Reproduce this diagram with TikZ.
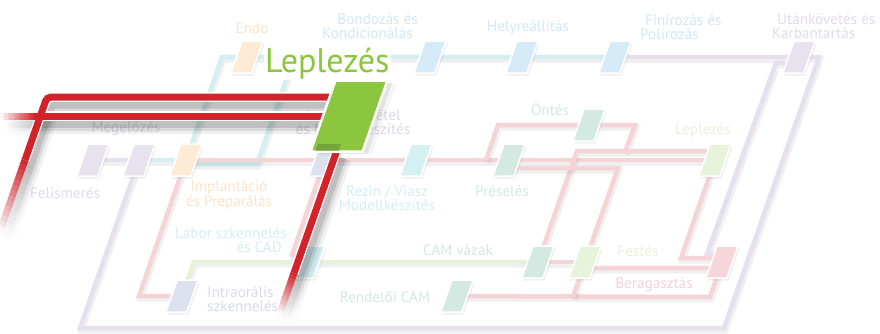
\documentclass[tikz,border=0pt]{standalone}
\usepackage{fontspec}
\setmainfont{PT Sans}
\usetikzlibrary{calc,shadows}
\definecolor{purL}{HTML}{E7DFEE}
\definecolor{cyaL}{HTML}{D3EFF2}
\definecolor{pnkL}{HTML}{F5D4D7}
\definecolor{grnL}{HTML}{E5F2D7}
\definecolor{sPur}{HTML}{E8E2EE}
\definecolor{sOra}{HTML}{FDEBD6}
\definecolor{sBlu}{HTML}{D6EBF8}
\definecolor{sCya}{HTML}{D5F0F3}
\definecolor{sGry}{HTML}{D4E9E1}
\definecolor{sLgr}{HTML}{E8F3DC}
\definecolor{sLav}{HTML}{DDE1EE}
\definecolor{sPnk}{HTML}{F6D6DA}
\definecolor{tPur}{HTML}{E2DCEA}
\definecolor{tOra}{HTML}{FDE3C8}
\definecolor{tBlu}{HTML}{D2E8F6}
\definecolor{tCya}{HTML}{D3EFF3}
\definecolor{tLav}{HTML}{DADAEA}
\definecolor{tGry}{HTML}{D3EAE1}
\definecolor{tLgr}{HTML}{E8F3DC}
\definecolor{tPnk}{HTML}{F6D3D7}
\definecolor{redR}{HTML}{D2232A}
\definecolor{grnB}{HTML}{8CC63F}
\definecolor{grnD}{HTML}{74A53A}
\newcommand\fadeseg[4]{%
  \foreach \k in {1,...,14}{%
    \pgfmathsetmacro\rfa{(\k-1)/14}%
    \pgfmathsetmacro\rfb{\k/14}%
    \pgfmathsetmacro\rfo{#4*(1-(\k-0.5)/14)}%
    \draw[#3, draw opacity=\rfo] ($(#1)!\rfa!(#2)$) -- ($(#1)!\rfb!(#2)$);
  }}
\begin{document}
\begin{tikzpicture}[x=1pt,y=-1pt,
  ln/.style={line width=4.5pt, line join=miter,
    preaction={draw=black, draw opacity=0.06, line width=6pt, transform canvas={shift={(1.5,2.5)}}}},
  stn/.style={draw=white, line width=1.5pt, minimum width=21pt, minimum height=32pt,
    inner sep=0pt, xslant=0.35, drop shadow={shadow xshift=1.5pt, shadow yshift=-2.5pt, opacity=0.12}},
  lbl/.style={font=\fontsize{15.2}{14.5}\selectfont, inner sep=0pt},
  redln/.style={draw=redR, line width=7pt},
  shd/.style={draw=black, line width=#1},
]
\useasboundingbox (0,0) rectangle (880,333);
\fill[white] (0,0) rectangle (880,333);
% station positions
\coordinate (felis) at (93,160);
\coordinate (megel) at (139,160);
\coordinate (impl) at (186,160);
\coordinate (endo) at (247,57);
\coordinate (bond) at (430,57);
\coordinate (helyr) at (522,57);
\coordinate (finir) at (615,57);
\coordinate (utank) at (799,57);
\coordinate (lenyo) at (325,160);
\coordinate (rezin) at (416,160);
\coordinate (presel) at (509,160);
\coordinate (ontes) at (589,125);
\coordinate (leplS) at (715,160);
\coordinate (camv) at (538,262);
\coordinate (festes) at (585,262);
\coordinate (berag) at (722,262);
\coordinate (rendel) at (457,296);
\coordinate (intra) at (182,296);
\coordinate (labor) at (309,262);
\coordinate (leplB) at (349,116);
% purple lines
\draw[ln, purL] (felis) -- (megel);
\draw[ln, purL] (megel) -- (80,328) -- (724,328) -- (819,57) -- (utank);
\draw[ln, purL] (finir) -- (utank);
\draw[ln, purL] (utank) -- (797,63) -- (776,63) -- (707,254) -- (720,254);
% cyan lines
\draw[ln, cyaL] (megel) -- (impl);
\draw[ln, cyaL] (impl) -- (222,57) -- (finir);
\draw[ln, cyaL] (impl) -- (190,164) -- (257,164) -- (294,57);
% green line
\draw[ln, grnL] (intra) -- (194,262) -- (camv);
% pink lines
\draw[ln, pnkL] (impl) -- (leplS);
\draw[ln, pnkL] (impl) -- (139,296) -- (intra);
\draw[ln, pnkL] (486,160) -- (498,125) -- (ontes) -- (635,125) -- (625,152);
\draw[ln, pnkL] (camv) -- (577,151) -- (712,151);
\draw[ln, pnkL] (presel) -- (512,168) -- (618,168) -- (festes);
\draw[ln, pnkL] (camv) -- (festes);
\draw[ln, pnkL] (festes) -- (592,268) -- (716,268);
\draw[ln, pnkL] (rendel) -- (710,297) -- (berag);
\draw[ln, pnkL] (festes) -- (573,297);
\draw[ln, pnkL] (leplS) -- (681,258) -- (716,258);
\draw[ln, pnkL] (lenyo) -- (292,255) -- (labor);
% stations
\node[stn, fill=sPur] (s-felis) at (felis) {};
\node[stn, fill=sPur] (s-megel) at (megel) {};
\node[stn, fill=sOra] (s-impl) at (impl) {};
\node[stn, fill=sOra] (s-endo) at (endo) {};
\node[stn, fill=sBlu] (s-bond) at (bond) {};
\node[stn, fill=sBlu] (s-helyr) at (helyr) {};
\node[stn, fill=sBlu] (s-finir) at (finir) {};
\node[stn, fill=sPur] (s-utank) at (utank) {};
\node[stn, fill=sLav] (s-lenyo) at (lenyo) {};
\node[stn, fill=sCya] (s-rezin) at (rezin) {};
\node[stn, fill=sGry] (s-presel) at (presel) {};
\node[stn, fill=sGry] (s-ontes) at (ontes) {};
\node[stn, fill=sLgr] (s-leplS) at (leplS) {};
\node[stn, fill=sGry] (s-camv) at (camv) {};
\node[stn, fill=sLgr] (s-festes) at (festes) {};
\node[stn, fill=sPnk] (s-berag) at (berag) {};
\node[stn, fill=sGry] (s-rendel) at (rendel) {};
\node[stn, fill=sLav] (s-intra) at (intra) {};
\node[stn, fill=sCya] (s-labor) at (labor) {};
% labels
\node[lbl, text=tOra] (t-endo) at (252,28) {Endo};
\node[lbl, text=tBlu, align=right, anchor=east] (t-bond) at (418,26) {Bondozás és\\Kondicionálás\hspace*{5pt}};
\node[lbl, text=tBlu] (t-helyr) at (528,28) {Helyreállítás};
\node[lbl, text=tBlu, align=left, anchor=west] (t-finir) at (640,27) {\hspace*{5pt}Finírozás és\\Polírozás};
\node[lbl, text=tPur, align=left, anchor=west] (t-utank) at (772,26) {\hspace*{5pt}Utánkövetés és\\Karbantartás};
\node[lbl, text=tPur] (t-megel) at (126,129) {Megelőzés};
\node[lbl, text=tPur] (t-felis) at (65,193) {Felismerés};
\node[lbl, text=tLav, align=center] (t-lenyo) at (353,122) {Lenyomatvétel\\és Modellkészítés};
\node[lbl, text=tOra, align=center] (t-impl) at (229,195) {Implantáció\\és Preparálás};
\node[lbl, text=tCya, align=right, anchor=east] (t-labor) at (287,240) {Labor szkennelés\\és CAD\hspace*{5pt}};
\node[lbl, text=tLav, align=left, anchor=west] (t-intra) at (207,299) {Intraorális\\szkennelés};
\node[lbl, text=tCya, align=center] (t-rezin) at (387,198) {Rezin / Viasz\\Modellkészítés};
\node[lbl, text=tGry] (t-presel) at (502,191) {Préselés};
\node[lbl, text=tGry] (t-ontes) at (550,109) {Öntés};
\node[lbl, text=tLgr] (t-leplS) at (703,131) {Leplezés};
\node[lbl, text=tGry] (t-camv) at (458,250) {CAM vázak};
\node[lbl, text=tGry] (t-rendel) at (385,297) {Rendelői CAM};
\node[lbl, text=tLgr] (t-festes) at (638,251) {Festés};
\node[lbl, text=tPnk] (t-berag) at (654,285) {Beragasztás};
% red route
\coordinate (r1s) at (35,116); \coordinate (r1e) at (0,116);
\coordinate (r2a) at (345,97); \coordinate (r2b) at (47,97); \coordinate (r2c) at (25,160); \coordinate (r2e) at (0,231);
\coordinate (r3a) at (337,150); \coordinate (r3b) at (294,273); \coordinate (r3e) at (280,313);
\begin{scope}[transform canvas={shift={(5,8)}}]
  \foreach \w/\o in {20/0.06, 13/0.09, 7/0.12}{
    \draw[shd=\w pt, draw opacity=\o] (leplB) -- (r1s);
    \draw[shd=\w pt, draw opacity=\o, rounded corners=4pt] (r2a) -- (r2b) -- (r2c);
    \draw[shd=\w pt, draw opacity=\o] (r3a) -- (r3b);
    \fadeseg{r1s}{r1e}{shd=\w pt}{\o}
    \fadeseg{r2c}{r2e}{shd=\w pt}{\o}
    \fadeseg{r3b}{r3e}{shd=\w pt}{\o}
  }
\end{scope}
\draw[white, line width=9.5pt] (leplB) -- (r1s);
\draw[white, line width=9.5pt, rounded corners=4pt] (r2a) -- (r2b) -- (r2c);
\draw[white, line width=9.5pt] (r3a) -- (r3b);
\draw[redln] (leplB) -- (r1s);
\draw[redln, rounded corners=4pt] (r2a) -- (r2b) -- (r2c);
\draw[redln] (r3a) -- (r3b);
\fadeseg{r1s}{r1e}{redln}{1}
\fadeseg{r2c}{r2e}{redln}{1}
\fadeseg{r3b}{r3e}{redln}{1}
% big station
\node[draw=white, line width=2.5pt, fill=grnB, minimum width=52pt, minimum height=71pt,
  inner sep=0pt, xslant=0.35,
  drop shadow={shadow xshift=9pt, shadow yshift=-3pt, opacity=0.08},
  drop shadow={shadow xshift=5pt, shadow yshift=-2pt, opacity=0.15}] (s-leplB) at (leplB) {};
\fill[grnD] (318,144) -- (341,144) -- (338.5,150.5) -- (315.5,150.5) -- cycle;
\node[font=\fontsize{34}{34}\selectfont, text=grnB, fill=white, fill opacity=0.85, text opacity=1,
  inner sep=1pt, anchor=base west] (t-leplB) at (264,72) {Leplezés};
\end{tikzpicture}
\end{document}
